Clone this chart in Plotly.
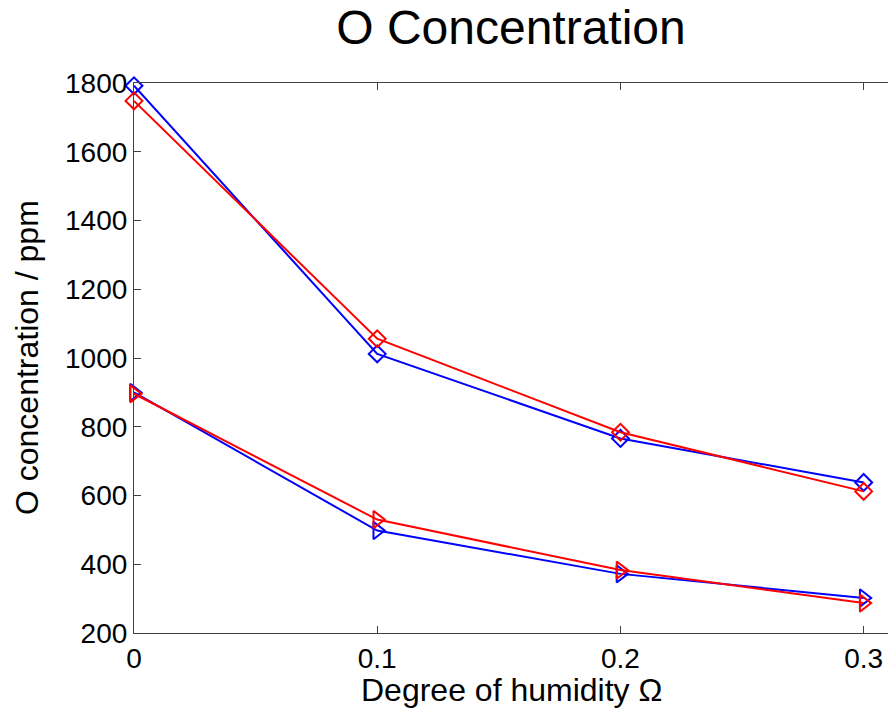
import plotly.graph_objects as go

humidity = [0.0, 0.1, 0.2, 0.3]
blue_diamond = [1792, 1012, 766, 638]
red_diamond = [1748, 1056, 784, 612]
blue_triangle = [900, 498, 372, 302]
red_triangle = [896, 530, 383, 287]

x_ticks = [0, 0.1, 0.2, 0.3]
x_tick_text = ["0", "0.1", "0.2", "0.3"]
y_ticks = [200, 400, 600, 800, 1000, 1200, 1400, 1600, 1800]

FONT = "Liberation Sans, Arial, sans-serif"

fig = go.Figure()

def add(y, color, symbol, size):
    fig.add_trace(go.Scatter(
        x=humidity, y=y, mode="lines+markers",
        line=dict(color=color, width=2),
        marker=dict(symbol=symbol, size=size, color=color,
                    line=dict(color=color, width=2)),
        showlegend=False, cliponaxis=False,
    ))

add(blue_diamond, "#0000ff", "diamond-open", 13)
add(red_diamond, "#ff0000", "diamond-open", 13)
add(blue_triangle, "#0000ff", "triangle-right-open", 15)
add(red_triangle, "#ff0000", "triangle-right-open", 15)

axis_color = "#404040"

fig.update_layout(
    width=888, height=711,
    margin=dict(l=134, r=0, t=83, b=78),
    paper_bgcolor="white", plot_bgcolor="white",
    font=dict(family=FONT, color="black"),
    title=dict(text="O Concentration", x=0.5, xref="paper", xanchor="center",
               y=1 - 27 / 711, yref="container", yanchor="middle",
               font=dict(size=48, family=FONT, color="black")),
    xaxis=dict(range=[0, 0.31], tickvals=x_ticks, ticktext=x_tick_text,
               ticks="inside", ticklen=7, tickcolor=axis_color, tickwidth=1,
               showline=True, linecolor=axis_color, linewidth=1.2, mirror="ticks",
               showgrid=False, zeroline=False,
               tickfont=dict(size=28, family=FONT, color="black")),
    yaxis=dict(range=[200, 1800], tickvals=y_ticks,
               ticks="inside", ticklen=7, tickcolor=axis_color, tickwidth=1,
               showline=True, linecolor=axis_color, linewidth=1.2,
               showgrid=False, zeroline=False,
               tickfont=dict(size=28, family=FONT, color="black")),
    yaxis2=dict(range=[200, 1800], tickvals=y_ticks, overlaying="y", side="right",
                ticks="inside", ticklen=7, tickcolor=axis_color, tickwidth=1,
                showline=False, showticklabels=False, showgrid=False, zeroline=False),
    annotations=[
        dict(text="Degree of humidity Ω", xref="paper", yref="paper", x=0.5, y=0,
             xanchor="center", yanchor="middle", yshift=-57, showarrow=False,
             font=dict(size=32, family=FONT, color="black")),
        dict(text="O concentration / ppm", xref="paper", yref="paper", x=0, y=0.5,
             xanchor="center", yanchor="middle", xshift=-107, textangle=-90,
             showarrow=False, font=dict(size=32, family=FONT, color="black")),
    ],
)

fig.write_html("out.html")
